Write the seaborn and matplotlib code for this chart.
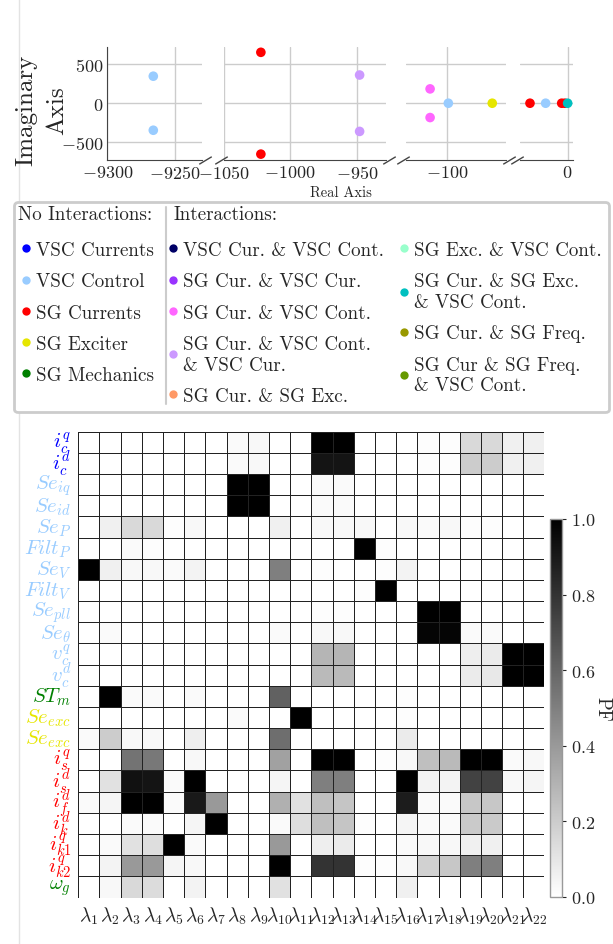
"""
Eigenvalue map (broken real axis) + participation factor heatmap
"""
# %%
import numpy as np
import pandas as pd
import seaborn as sns
import matplotlib.pyplot as plt
from matplotlib.lines import Line2D

sns.set_style("white")
plt.rcParams.update({
    "font.family": "serif",
    "font.serif": ["cmr10", "DejaVu Serif"],
    "mathtext.fontset": "cm",
    "axes.formatter.use_mathtext": True,
    "axes.unicode_minus": True,
})

W, H = 613, 945

# %% data
eig_real = [-9266, -9266, -1022, -1022, -948, -948, -112.5, -112.5,
            -99, -66.5, -27.9, -16.3, -4.4, -2.0, 0.0]
eig_imag = [345, -345, 650, -650, 360, -360, 183, -183,
            0, 0, 0, 0, 0, 0, 0]
eig_group = ["VSC Control", "VSC Control", "SG Currents", "SG Currents",
             "SG Cur. & VSC Cont. & VSC Cur.", "SG Cur. & VSC Cont. & VSC Cur.",
             "SG Cur. & VSC Cont.", "SG Cur. & VSC Cont.",
             "VSC Control", "SG Exciter", "SG Currents", "VSC Control",
             "SG Currents", "SG Currents", "SG Cur. & SG Exc. & VSC Cont."]

no_inter = ["VSC Currents", "VSC Control", "SG Currents", "SG Exciter", "SG Mechanics"]
no_inter_colors = ["#0000ff", "#99ccff", "#ff0000", "#e6e600", "#008000"]
inter_a = ["VSC Cur. & VSC Cont.", "SG Cur. & VSC Cur.", "SG Cur. & VSC Cont.",
           "SG Cur. & VSC Cont. & VSC Cur.", "SG Cur. & SG Exc."]
inter_a_colors = ["#000066", "#9933ff", "#ff66ff", "#cc99ff", "#ff9966"]
inter_b = ["SG Exc. & VSC Cont.", "SG Cur. & SG Exc. & VSC Cont.",
           "SG Cur. & SG Freq.", "SG Cur & SG Freq. & VSC Cont."]
inter_b_colors = ["#99ffcc", "#00c0c0", "#999900", "#669900"]
headers = ["No Interactions:", "Interactions:"]

# line-broken versions for the legend
legend_text = {
    "SG Cur. & VSC Cont. & VSC Cur.": "SG Cur. & VSC Cont.\n& VSC Cur.",
    "SG Cur. & SG Exc. & VSC Cont.": "SG Cur. & SG Exc.\n& VSC Cont.",
    "SG Cur & SG Freq. & VSC Cont.": "SG Cur & SG Freq.\n& VSC Cont.",
}

palette = dict(zip(no_inter + inter_a + inter_b,
                   no_inter_colors + inter_a_colors + inter_b_colors))

panel_xlim = [(-9300, -9230), (-1050, -928), (-130.4, -56.4), (-35.3, 4.2)]
panel_xticks = [[-9300, -9250], [-1050, -1000, -950], [-100], [0]]
imag_lim = (-725, 714)
imag_ticks = [-500, 0, 500]

states = [r"$i_c^q$", r"$i_c^d$", r"$Se_{iq}$", r"$Se_{id}$", r"$Se_P$",
          r"$Filt_P$", r"$Se_V$", r"$Filt_V$", r"$Se_{pll}$", r"$Se_\theta$",
          r"$v_c^q$", r"$v_c^d$", r"$ST_m$", r"$Se_{exc}$", r"$Se_{exc}$",
          r"$i_s^q$", r"$i_s^d$", r"$i_f^d$", r"$i_k^d$", r"$i_{k1}^q$",
          r"$i_{k2}^q$", r"$\omega_g$"]
state_colors = (["#0000ff"] * 2 + ["#99ccff"] * 10 + ["#008000"]
                + ["#e6e600"] * 2 + ["#ff0000"] * 6 + ["#008000"])
modes = [rf"$\lambda_{{{i}}}$" for i in range(1, 23)]

pf = [
    [0, 0, 0, 0, 0, 0, 0, .02, .03, 0, 0, 1, 1, 0, 0, 0, .01, .01, .15, .15, .06, .06],
    [0, 0, 0, 0, 0, 0, 0, .02, .03, 0, 0, .92, .92, 0, 0, 0, .01, .01, .2, .2, .06, .06],
    [0, 0, 0, 0, 0, 0, 0, 1, 1, 0, 0, .02, .02, 0, 0, 0, 0, 0, 0, 0, 0, 0],
    [0, 0, 0, 0, 0, 0, 0, 1, 1, 0, 0, .02, .02, 0, 0, 0, 0, 0, 0, 0, 0, 0],
    [0, .06, .15, .15, .01, .03, 0, 0, 0, .06, 0, .03, .03, .03, 0, .03, .02, .03, .01, .01, 0, 0],
    [0, 0, .02, .01, 0, 0, 0, 0, 0, 0, 0, 0, 0, 1, .01, 0, 0, 0, 0, 0, 0, 0],
    [1, .06, .03, .03, .02, .05, 0, 0, 0, .5, 0, .01, 0, 0, .01, .05, 0, 0, 0, 0, 0, 0],
    [0, 0, 0, 0, 0, 0, 0, 0, 0, 0, 0, 0, 0, .01, 1, 0, 0, 0, 0, 0, 0, 0],
    [0, 0, 0, 0, 0, 0, 0, 0, 0, 0, 0, .01, .01, 0, 0, 0, 1, 1, 0, 0, 0, 0],
    [0, .02, 0, 0, 0, 0, 0, 0, 0, .02, 0, .03, .03, 0, 0, 0, .98, .98, .02, .02, 0, 0],
    [0, 0, 0, 0, 0, 0, 0, 0, 0, 0, 0, .29, .29, 0, 0, 0, 0, 0, .07, .08, 1, 1],
    [0, 0, 0, 0, 0, 0, 0, 0, 0, 0, 0, .27, .27, 0, 0, 0, 0, 0, .08, .09, 1, 1],
    [0, 1, .02, .02, 0, .02, 0, 0, 0, .62, 0, 0, 0, 0, 0, .01, 0, 0, 0, 0, 0, 0],
    [0, 0, 0, 0, 0, 0, 0, .02, 0, 0, 1, 0, 0, 0, 0, .01, 0, 0, 0, 0, 0, 0],
    [.02, .2, .03, .03, 0, .07, 0, 0, 0, .57, 0, 0, 0, 0, 0, .08, 0, 0, 0, 0, 0, 0],
    [0, 0, .55, .53, 0, .03, 0, 0, 0, .37, 0, 1, 1, 0, .01, .03, .25, .27, 1, 1, .02, .03],
    [0, .12, .93, .92, .02, 1, 0, 0, 0, .04, 0, .5, .5, 0, 0, 1, .05, .05, .74, .74, .03, .04],
    [.02, .04, 1, 1, .02, .9, .4, 0, 0, .31, .12, .25, .23, 0, 0, .89, .02, .02, .22, .22, 0, 0],
    [0, 0, .02, .02, 0, .04, 1, 0, 0, .02, .13, .25, .23, .01, 0, .04, .02, .02, .21, .21, 0, 0],
    [0, .02, .12, .13, 1, .02, 0, 0, 0, .4, 0, .07, .08, 0, 0, .02, .03, .03, .06, .06, 0, 0],
    [0, .05, .4, .4, .04, .03, 0, 0, 0, 1, 0, .8, .8, .01, .01, .03, .18, .22, .5, .5, 0, 0],
    [0, .03, .15, .14, 0, .05, 0, 0, 0, .12, 0, 0, 0, 0, 0, .06, 0, 0, 0, 0, 0, 0],
]

# %% figure
fig = plt.figure(figsize=(W / 100, H / 100), dpi=100)


def px_rect(x0, y0, x1, y1):
    return [x0 / W, 1 - y1 / H, (x1 - x0) / W, (y1 - y0) / H]


eig = pd.DataFrame({"re": eig_real, "im": eig_imag, "group": eig_group})

panel_px = [(107.3, 202), (223.5, 386.3), (405.9, 505.9), (520, 573.3)]
for i, ((x0, x1), xlim, xt) in enumerate(zip(panel_px, panel_xlim, panel_xticks)):
    ax = fig.add_axes(px_rect(x0, 48.3, x1, 161))
    sns.scatterplot(data=eig, x="re", y="im", hue="group", palette=palette,
                    s=48, linewidth=0, legend=False, ax=ax, zorder=3)
    ax.set_xlim(xlim)
    ax.set_ylim(imag_lim)
    ax.set_xticks(xt)
    ax.set_yticks(imag_ticks)
    ax.grid(True, color="#cccccc", lw=1)
    ax.set_axisbelow(True)
    ax.set_xlabel("")
    ax.set_ylabel("")
    ax.tick_params(length=0, labelsize=13, pad=3)
    for s in ["top", "right"]:
        ax.spines[s].set_visible(False)
    ax.spines["bottom"].set_color("#444444")
    ax.spines["left"].set_color("#444444")
    if i == 0:
        ax.set_ylabel("Imaginary\nAxis", fontsize=18, linespacing=1.55)
        ax.yaxis.set_label_coords(-0.41, 0.45)
    else:
        ax.spines["left"].set_visible(False)
        ax.set_yticklabels([])
    # broken axis marks
    kw = dict(marker=[(-1, -0.6), (1, 0.6)], markersize=9, linestyle="none",
              color="#444444", mec="#444444", mew=1, clip_on=False,
              transform=ax.transAxes)
    if i > 0:
        ax.plot([-0.03 * 100 / (x1 - x0)], [0], **kw)
    if i < 3:
        ax.plot([1 + 0.03 * 100 / (x1 - x0)], [0], **kw)

fig.text(341 / W, 1 - 193 / H, "Real Axis", fontsize=10.5, ha="center", va="center")

# %% legend
handles, labels = [], []
blank = Line2D([], [], linestyle="none", marker=None)
for names in [no_inter, inter_a, inter_b]:
    handles.append(blank)
    labels.append(" ")
    for n in names:
        handles.append(Line2D([], [], linestyle="none", marker="o", markersize=6,
                              markerfacecolor=palette[n], markeredgewidth=0))
        labels.append(legend_text.get(n, n))

leg = fig.legend(handles, labels, ncol=3, loc="upper left",
                 bbox_to_anchor=(13.7 / W, 1 - 203.3 / H), borderaxespad=0,
                 fontsize=13.7, handlelength=0.45, handletextpad=0.3,
                 columnspacing=0.8, labelspacing=0.7, borderpad=0.4,
                 frameon=True, fancybox=True, framealpha=1, edgecolor="#cccccc")
leg.get_frame().set_linewidth(2)

for hx, htxt in zip([17.6, 173.7], headers):
    fig.text(hx / W, 1 - 215 / H, htxt, fontsize=13.7, ha="left", va="center", zorder=7)

fig.add_artist(Line2D([165.5 / W] * 2, [1 - 208 / H, 1 - 405 / H],
                      transform=fig.transFigure, color="#cccccc", lw=1.5, zorder=6))
fig.add_artist(Line2D([19.3 / W] * 2, [0, 1], transform=fig.transFigure,
                      color="#e3e3e3", lw=1, zorder=0))

# %% participation factors
pf_df = pd.DataFrame(pf, index=states, columns=modes)
ax_hm = fig.add_axes(px_rect(78.3, 432.7, 544.5, 898.5))
cax = fig.add_axes(px_rect(550, 520, 562.3, 898))
sns.heatmap(pf_df, cmap="gray_r", vmin=0, vmax=1, linewidths=0.7,
            linecolor="#222222", ax=ax_hm, cbar_ax=cax,
            xticklabels=modes, yticklabels=states,
            cbar_kws={"ticks": [0, 0.2, 0.4, 0.6, 0.8, 1.0]})
ax_hm.tick_params(length=3, width=0.8, pad=2)
ax_hm.set_yticklabels(ax_hm.get_yticklabels(), rotation=0, fontsize=15)
ax_hm.set_xticklabels(ax_hm.get_xticklabels(), rotation=0, fontsize=14)
for lbl, c in zip(ax_hm.get_yticklabels(), state_colors):
    lbl.set_color(c)
ax_hm.set_xlabel("")
ax_hm.set_ylabel("")

cbar = ax_hm.collections[0].colorbar
cbar.outline.set_edgecolor("#999999")
cbar.outline.set_linewidth(1)
cax.tick_params(labelsize=13, length=3, width=0.8)
cax.set_ylabel("PF", rotation=270, fontsize=13.5, va="center", ha="center")
cax.yaxis.set_label_coords(4.3, 0.5)

fig.savefig("out.png", dpi=100)
